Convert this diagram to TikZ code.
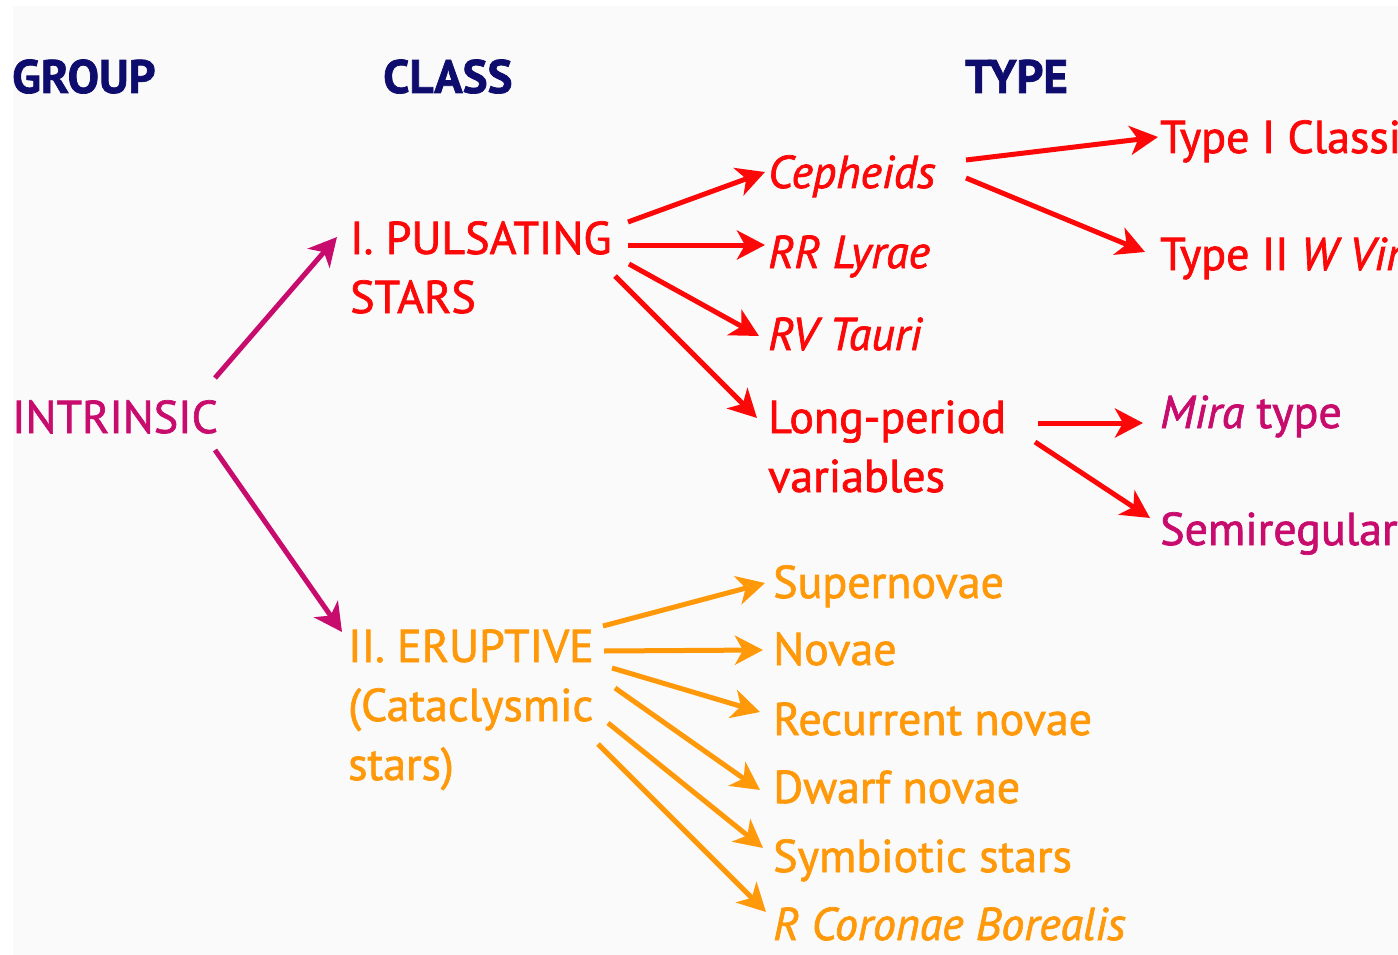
\documentclass[tikz,border=0pt]{standalone}
\usepackage{fontspec}
\setmainfont{PT Sans}[FakeBold=1.5]
\usetikzlibrary{arrows.meta,calc}
\definecolor{navy}{RGB}{14,12,108}
\definecolor{magen}{RGB}{200,12,110}
\definecolor{redc}{RGB}{252,8,8}
\definecolor{orng}{RGB}{255,153,10}
\definecolor{bg}{RGB}{250,250,250}
\tikzset{
  lbl/.style={anchor=base west,inner sep=0pt,align=left,font=\fontsize{46}{59}\selectfont},
  hdr/.style={lbl,font=\fontsize{47}{59}\selectfont\bfseries,text=navy},
  arr/.style={line width=5pt,-{Stealth[length=28pt,width=29pt,inset=8pt]}},
}
\begin{document}
\begin{tikzpicture}[x=1pt,y=-1pt]
\useasboundingbox (0,0) rectangle (1398,955);
\fill[white] (0,0) rectangle (1398,955);
\fill[bg] (13,6) rectangle (1398,955);
\begin{scope}
\clip (0,0) rectangle (1398,955);
% headers
\node[hdr] (group) at (12,93) {GROUP};
\node[hdr] (class) at (383,93) {CLASS};
\node[hdr] (type) at (965,93) {TYPE};
% group
\node[lbl,text=magen] (intr) at (12,433) {INTRINSIC};
% classes (base anchor = baseline of the last line)
\node[lbl,text=redc] (pul) at (350,313) {I. PULSATING\\STARS};
\node[lbl,text=orng] (eru) at (348,780) {II. ERUPTIVE\\(Cataclysmic\\stars)};
% pulsating types
\node[lbl,text=redc] (ceph) at (768,188) {\itshape Cepheids};
\node[lbl,text=redc] (rrl) at (768,268) {\itshape RR Lyrae};
\node[lbl,text=redc] (rvt) at (768,350) {\itshape RV Tauri};
\node[lbl,text=redc] (lpv) at (768,492) {Long-period\\variables};
\node[lbl,text=redc] (t1) at (1160,153) {Type I Classical};
\node[lbl,text=redc] (t2) at (1160,270) {Type II \textit{W Virginis}};
\node[lbl,text=magen] (mira) at (1160,428) {\textit{Mira} type};
\node[lbl,text=magen] (semi) at (1160,545) {Semiregular};
% eruptive types
\node[lbl,text=orng] (sn) at (773,598) {Supernovae};
\node[lbl,text=orng] (nov) at (773,665) {Novae};
\node[lbl,text=orng] (rec) at (773,735) {Recurrent novae};
\node[lbl,text=orng] (dw) at (773,803) {Dwarf novae};
\node[lbl,text=orng] (sym) at (773,872) {Symbiotic stars};
\node[lbl,text=orng] (rcb) at (773,940) {\itshape R Coronae Borealis};
% connectors
\draw[arr,magen] ($(intr.base west)+(203,-55)$) -- ($(pul.base west)+(-13,-76)$);
\draw[arr,magen] ($(intr.base west)+(203,17)$) -- ($(eru.base west)+(-6,-148)$);
\draw[arr,redc] ($(pul.base west)+(278,-91)$) -- ($(ceph.base west)+(-3,-16)$);
\draw[arr,redc] ($(pul.base west)+(278,-68)$) -- ($(rrl.base west)+(-3,-23)$);
\draw[arr,redc] ($(pul.base west)+(279,-49)$) -- ($(rvt.base west)+(-9,-14)$);
\draw[arr,redc] ($(pul.base west)+(265,-37)$) -- ($(lpv.base west)+(-11,-74)$);
\draw[arr,redc] ($(ceph.base west)+(198,-28)$) -- ($(t1.base west)+(-2,-16)$);
\draw[arr,redc] ($(ceph.base west)+(198,-10)$) -- ($(t2.base west)+(-15,-18)$);
\draw[arr,redc] ($(lpv.base west)+(270,-69)$) -- ($(mira.base west)+(-17,-5)$);
\draw[arr,redc] ($(lpv.base west)+(267,-50)$) -- ($(semi.base west)+(-10,-27)$);
\draw[arr,orng] ($(eru.base west)+(255,-154)$) -- ($(sn.base west)+(-8,-15)$);
\draw[arr,orng] ($(eru.base west)+(256,-129)$) -- ($(nov.base west)+(-10,-15)$);
\draw[arr,orng] ($(eru.base west)+(264,-112)$) -- ($(rec.base west)+(-13,-23)$);
\draw[arr,orng] ($(eru.base west)+(267,-92)$) -- ($(dw.base west)+(-13,-13)$);
\draw[arr,orng] ($(eru.base west)+(260,-57)$) -- ($(sym.base west)+(-10,-24)$);
\draw[arr,orng] ($(eru.base west)+(250,-36)$) -- ($(rcb.base west)+(-7,-28)$);
\end{scope}
\end{tikzpicture}
\end{document}
